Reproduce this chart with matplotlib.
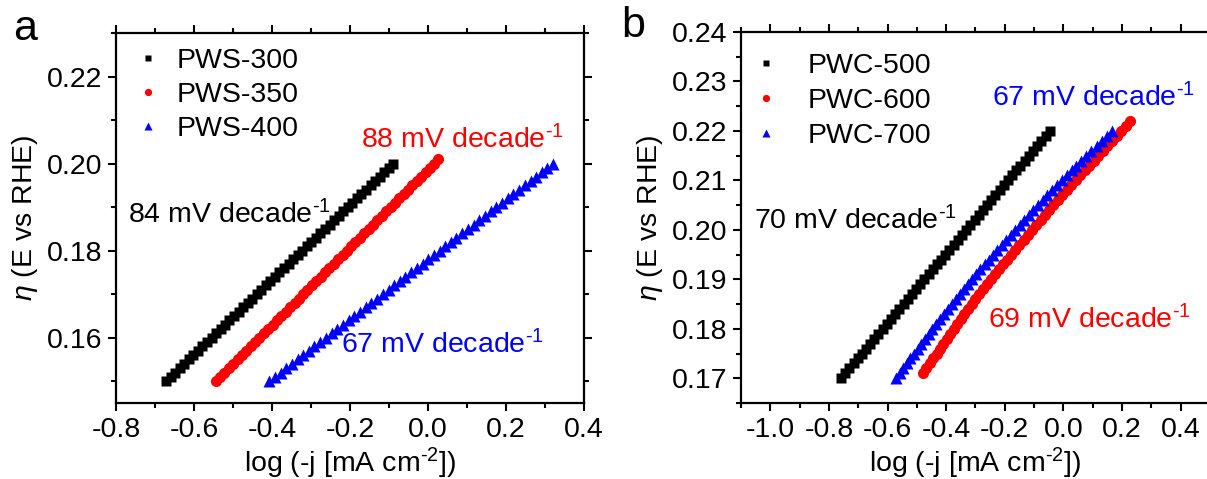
import matplotlib
matplotlib.use("Agg")
import matplotlib.pyplot as plt
import matplotlib.ticker as mticker

plt.rcParams['font.family'] = ['Liberation Sans', 'DejaVu Sans']
plt.rcParams['mathtext.fontset'] = 'custom'
plt.rcParams['mathtext.rm'] = 'Liberation Sans'
plt.rcParams['mathtext.it'] = 'Liberation Sans:italic'
plt.rcParams['axes.unicode_minus'] = False

FS = 20.5

# overpotential (V), 1 mV steps
eta_a = [0.150, 0.151, 0.152, 0.153, 0.154, 0.155, 0.156, 0.157, 0.158, 0.159,
         0.160, 0.161, 0.162, 0.163, 0.164, 0.165, 0.166, 0.167, 0.168, 0.169,
         0.170, 0.171, 0.172, 0.173, 0.174, 0.175, 0.176, 0.177, 0.178, 0.179,
         0.180, 0.181, 0.182, 0.183, 0.184, 0.185, 0.186, 0.187, 0.188, 0.189,
         0.190, 0.191, 0.192, 0.193, 0.194, 0.195, 0.196, 0.197, 0.198, 0.199,
         0.200]
eta_a_350 = eta_a + [0.201]

eta_b = [0.170, 0.171, 0.172, 0.173, 0.174, 0.175, 0.176, 0.177, 0.178, 0.179,
         0.180, 0.181, 0.182, 0.183, 0.184, 0.185, 0.186, 0.187, 0.188, 0.189,
         0.190, 0.191, 0.192, 0.193, 0.194, 0.195, 0.196, 0.197, 0.198, 0.199,
         0.200, 0.201, 0.202, 0.203, 0.204, 0.205, 0.206, 0.207, 0.208, 0.209,
         0.210, 0.211, 0.212, 0.213, 0.214, 0.215, 0.216, 0.217, 0.218, 0.219,
         0.220]
eta_b_600 = eta_b[1:] + [0.221, 0.222]

# log(-j) for each sample
logj_pws300 = [-0.672, -0.660, -0.649, -0.637, -0.625, -0.614, -0.602, -0.590, -0.579, -0.567,
               -0.555, -0.544, -0.532, -0.520, -0.509, -0.497, -0.485, -0.474, -0.462, -0.450,
               -0.439, -0.427, -0.415, -0.404, -0.392, -0.381, -0.369, -0.357, -0.346, -0.334,
               -0.322, -0.311, -0.299, -0.287, -0.276, -0.264, -0.252, -0.241, -0.229, -0.217,
               -0.206, -0.194, -0.182, -0.171, -0.159, -0.147, -0.136, -0.124, -0.112, -0.101,
               -0.089]
logj_pws350 = [-0.544, -0.533, -0.522, -0.510, -0.499, -0.488, -0.477, -0.466, -0.454, -0.443,
               -0.432, -0.421, -0.410, -0.398, -0.387, -0.376, -0.365, -0.354, -0.342, -0.331,
               -0.320, -0.309, -0.298, -0.286, -0.275, -0.264, -0.253, -0.242, -0.230, -0.219,
               -0.208, -0.197, -0.186, -0.174, -0.163, -0.152, -0.141, -0.130, -0.118, -0.107,
               -0.096, -0.085, -0.074, -0.062, -0.051, -0.040, -0.029, -0.018, -0.006, 0.005,
               0.016, 0.027]
logj_pws400 = [-0.407, -0.392, -0.378, -0.363, -0.349, -0.334, -0.320, -0.305, -0.291, -0.276,
               -0.261, -0.247, -0.232, -0.218, -0.203, -0.189, -0.174, -0.159, -0.145, -0.130,
               -0.116, -0.101, -0.087, -0.072, -0.058, -0.043, -0.028, -0.014, 0.001, 0.015,
               0.030, 0.044, 0.059, 0.073, 0.088, 0.103, 0.117, 0.132, 0.146, 0.161,
               0.175, 0.190, 0.205, 0.219, 0.234, 0.248, 0.263, 0.277, 0.292, 0.306,
               0.321]

logj_pwc500 = [-0.759, -0.745, -0.731, -0.716, -0.702, -0.688, -0.674, -0.659, -0.645, -0.631,
               -0.617, -0.602, -0.588, -0.574, -0.560, -0.545, -0.531, -0.517, -0.503, -0.488,
               -0.474, -0.460, -0.446, -0.431, -0.417, -0.403, -0.389, -0.374, -0.360, -0.346,
               -0.332, -0.318, -0.303, -0.289, -0.275, -0.261, -0.246, -0.232, -0.218, -0.204,
               -0.189, -0.175, -0.161, -0.147, -0.132, -0.118, -0.104, -0.090, -0.075, -0.061,
               -0.047]
logj_pwc600 = [-0.480, -0.468, -0.456, -0.445, -0.433, -0.421, -0.410, -0.398, -0.387, -0.375,
               -0.363, -0.350, -0.338, -0.325, -0.313, -0.300, -0.287, -0.274, -0.261, -0.248,
               -0.234, -0.220, -0.207, -0.193, -0.179, -0.165, -0.151, -0.136, -0.122, -0.108,
               -0.093, -0.078, -0.064, -0.049, -0.034, -0.019, -0.004, 0.012, 0.027, 0.042,
               0.057, 0.073, 0.088, 0.104, 0.119, 0.135, 0.150, 0.166, 0.181, 0.197,
               0.212, 0.228]
logj_pwc700 = [-0.570, -0.558, -0.546, -0.534, -0.522, -0.510, -0.497, -0.485, -0.472, -0.460,
               -0.447, -0.434, -0.421, -0.408, -0.394, -0.381, -0.367, -0.353, -0.340, -0.326,
               -0.312, -0.298, -0.283, -0.269, -0.254, -0.240, -0.225, -0.210, -0.195, -0.180,
               -0.165, -0.149, -0.134, -0.118, -0.103, -0.087, -0.071, -0.055, -0.038, -0.022,
               -0.006, 0.011, 0.028, 0.044, 0.061, 0.078, 0.095, 0.113, 0.130, 0.148,
               0.165]

slopes_a = ["84", "88", "67"]
slopes_b = ["70", "67", "69"]

UNIT = r" mV decade$^{\text{-}1}$"


def style_axis(ax, xmaj, ymaj):
    ax.xaxis.set_major_locator(mticker.MultipleLocator(xmaj))
    ax.xaxis.set_minor_locator(mticker.MultipleLocator(xmaj / 2))
    ax.yaxis.set_major_locator(mticker.MultipleLocator(ymaj))
    ax.yaxis.set_minor_locator(mticker.MultipleLocator(ymaj / 2))
    ax.xaxis.set_major_formatter(mticker.FormatStrFormatter('%.1f'))
    ax.yaxis.set_major_formatter(mticker.FormatStrFormatter('%.2f'))
    ax.tick_params(which='major', direction='out', length=6, width=1.5, labelsize=FS, pad=4)
    ax.tick_params(which='minor', direction='out', length=3.5, width=1.5)
    ax.tick_params(which='both', top=True, right=True, labeltop=False, labelright=False)
    for sp in ax.spines.values():
        sp.set_linewidth(1.6)
    ax.set_xlabel("log (-j [mA cm$^{\\text{-}2}$])", fontsize=FS, labelpad=2)
    ax.set_ylabel(r"$\eta$ (E vs RHE)", fontsize=FS, labelpad=5)


fig = plt.figure(figsize=(12.07, 4.79), dpi=100)
ax1 = fig.add_axes([0.0961, 0.1587, 0.3877, 0.7724])
ax2 = fig.add_axes([0.6139, 0.1587, 0.3886, 0.7745])

ax1.plot(logj_pws300, eta_a, 's', color='black', ms=7.5, mec='none', label='PWS-300')
ax1.plot(logj_pws350, eta_a_350, 'o', color='red', ms=8, mec='none', label='PWS-350')
ax1.plot(logj_pws400, eta_a, '^', color='blue', ms=8.5, mec='none', label='PWS-400')
ax1.set_xlim(-0.8, 0.4)
ax1.set_ylim(0.145, 0.23)
style_axis(ax1, 0.2, 0.02)
ax1.legend(loc='upper left', bbox_to_anchor=(0.038, 0.960), frameon=False, fontsize=FS,
           handlelength=1.0, handletextpad=0.5, labelspacing=0.29, markerscale=0.65,
           borderaxespad=0, borderpad=0)

ax1.text(-0.768, 0.1862, slopes_a[0] + UNIT, color='black', fontsize=FS)
ax1.text(-0.172, 0.2034, slopes_a[1] + UNIT, color='red', fontsize=FS)
ax1.text(-0.224, 0.1563, slopes_a[2] + UNIT, color='blue', fontsize=FS)

ax2.plot(logj_pwc500, eta_b, 's', color='black', ms=7.5, mec='none', label='PWC-500')
ax2.plot(logj_pwc600, eta_b_600, 'o', color='red', ms=8, mec='none', label='PWC-600')
ax2.plot(logj_pwc700, eta_b, '^', color='blue', ms=8.5, mec='none', label='PWC-700')
ax2.set_xlim(-1.1, 0.5)
ax2.set_ylim(0.165, 0.24)
style_axis(ax2, 0.2, 0.01)
ax2.xaxis.set_major_locator(mticker.FixedLocator([-1.0, -0.8, -0.6, -0.4, -0.2, 0.0, 0.2, 0.4]))
ax2.legend(loc='upper left', bbox_to_anchor=(0.023, 0.944), frameon=False, fontsize=FS,
           handlelength=1.0, handletextpad=0.95, labelspacing=0.32, markerscale=0.65,
           borderaxespad=0, borderpad=0)

ax2.text(-1.056, 0.2002, slopes_b[0] + UNIT, color='black', fontsize=FS)
ax2.text(-0.244, 0.2250, slopes_b[1] + UNIT, color='blue', fontsize=FS)
ax2.text(-0.259, 0.1800, slopes_b[2] + UNIT, color='red', fontsize=FS)

fig.text(13 / 1207, 1 - 40 / 479, "a", fontsize=31)
fig.text(621 / 1207, 1 - 37 / 479, "b", fontsize=31)

fig.savefig("out.png", dpi=100)
